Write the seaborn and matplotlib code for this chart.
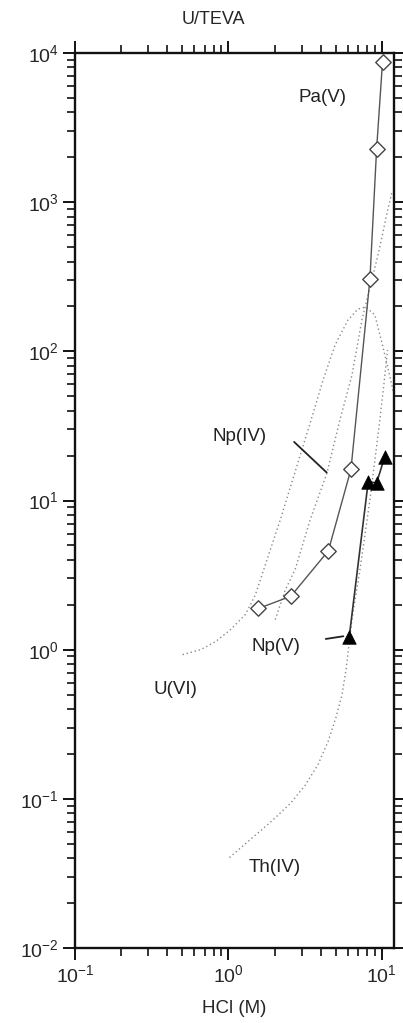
import matplotlib
matplotlib.use('Agg')
import matplotlib.pyplot as plt
import seaborn as sns
import pandas as pd
from matplotlib.ticker import LogLocator, NullFormatter

# Pa(V) measured points (open diamonds)
pa_hcl = [1.57, 2.55, 4.48, 6.29, 8.36, 9.24, 10.1]
pa_k = [1.89, 2.28, 4.6, 16.2, 304, 2258, 8710]

# Np(V) measured points (filled triangles)
npv_hcl = [6.13, 8.15, 9.24, 10.45]
npv_k = [1.22, 13.4, 13.1, 19.7]

# model curves (dotted)
u6_hcl = [0.502, 0.658, 0.823, 1.03, 1.29, 1.50, 1.74, 2.18, 2.72, 3.41, 4.14, 4.95,
          6.01, 6.98, 7.87, 9.01, 10.1, 11.3, 12.0]
u6_k = [0.926, 1.0, 1.13, 1.36, 1.72, 2.34, 3.71, 7.43, 15.6, 33.1, 64.3, 110,
        162, 192, 198, 175, 110, 67.4, 51]

np4_hcl = [2.02, 2.35, 2.72, 3.41, 4.39, 5.33, 6.39, 7.41, 8.61, 9.70, 10.8, 11.6]
np4_k = [1.59, 2.52, 3.44, 7.43, 15.3, 34.7, 69.5, 162, 301, 500, 845, 1150]

th4_hcl = [1.015, 1.39, 1.87, 2.53, 3.16, 3.84, 4.46, 5.02, 5.50, 5.84, 6.11, 6.38,
           6.78, 7.20, 7.76, 8.36, 9.01, 9.70, 10.3, 10.9]
th4_k = [0.0404, 0.0534, 0.0694, 0.093, 0.123, 0.170, 0.242, 0.351, 0.500, 0.735, 1.08, 1.59,
         2.34, 3.44, 5.89, 10.1, 18.7, 34.7, 59.6, 102]

# curve labels and their leader lines
labels = ['Pa(V)', 'Np(IV)', 'Np(V)', 'U(VI)', 'Th(IV)']
label_x = [4.08, 1.18, 2.05, 0.453, 1.99]
label_y = [5060, 26.7, 1.05, 0.54, 0.0347]
leader_np4 = ([2.68, 4.37], [24.7, 15.4])
leader_npv = ([4.31, 5.61], [1.18, 1.23])

sns.set_style('ticks')
plt.rcParams['font.family'] = ['Liberation Sans', 'DejaVu Sans']
plt.rcParams['mathtext.fontset'] = 'custom'
plt.rcParams['mathtext.rm'] = 'Liberation Sans'

fig = plt.figure(figsize=(4.03, 10.23), dpi=100)
ax = fig.add_axes([75 / 403, 1 - 948 / 1023, (394 - 75) / 403, (948 - 53) / 1023])

dot_kw = dict(color='#8a8a8a', linewidth=1.0, linestyle=(0, (1, 2)), sort=False, estimator=None, ax=ax)
for xs, ys in [(u6_hcl, u6_k), (np4_hcl, np4_k), (th4_hcl, th4_k)]:
    sns.lineplot(data=pd.DataFrame({'hcl': xs, 'k': ys}), x='hcl', y='k', **dot_kw)

pa = pd.DataFrame({'hcl': pa_hcl, 'k': pa_k})
sns.lineplot(data=pa, x='hcl', y='k', color='#555555', linewidth=1.0, sort=False, estimator=None, ax=ax)
sns.scatterplot(data=pa, x='hcl', y='k', marker='D', s=62, facecolor='white',
                edgecolor='#444444', linewidth=1.0, zorder=4, ax=ax)

npv = pd.DataFrame({'hcl': npv_hcl, 'k': npv_k})
sns.lineplot(data=npv, x='hcl', y='k', color='#333333', linewidth=1.2, sort=False, estimator=None, ax=ax)
sns.scatterplot(data=npv, x='hcl', y='k', marker='^', s=95, color='black',
                edgecolor='black', linewidth=0.5, zorder=4, ax=ax)

ax.plot(*leader_np4, color='#222222', linewidth=1.3)
ax.plot(*leader_npv, color='#222222', linewidth=1.3)
for txt, lx, ly in zip(labels, label_x, label_y):
    ax.text(lx, ly, txt, fontsize=13.5, ha='center', va='center', color='#222222')

ax.set_xscale('log')
ax.set_yscale('log')
ax.set_xlim(0.1, 12)
ax.set_ylim(1e-2, 1e4)
ax.yaxis.set_major_locator(LogLocator(base=10, numticks=20))
ax.yaxis.set_minor_locator(LogLocator(base=10, subs=range(2, 10), numticks=20))
ax.xaxis.set_minor_formatter(NullFormatter())
ax.yaxis.set_minor_formatter(NullFormatter())

for side in ['top', 'right', 'bottom', 'left']:
    ax.spines[side].set_visible(True)
    ax.spines[side].set_linewidth(1.7)
    ax.spines[side].set_color('#111111')
ax.tick_params(which='both', direction='out', top=True, right=True,
               labeltop=False, labelright=False, color='#111111')
ax.tick_params(which='major', length=8.5, width=1.4, labelsize=14, pad=3)
ax.tick_params(which='minor', length=5.5, width=1.2)

ax.set_xlabel('HCl (M)', fontsize=13.5, labelpad=10)
ax.set_ylabel(None)
ax.yaxis.label.set_visible(False)
fig.text(213 / 403, 1 - 20 / 1023, 'U/TEVA', fontsize=13, ha='center', va='center')

fig.savefig('out.png', dpi=100)
